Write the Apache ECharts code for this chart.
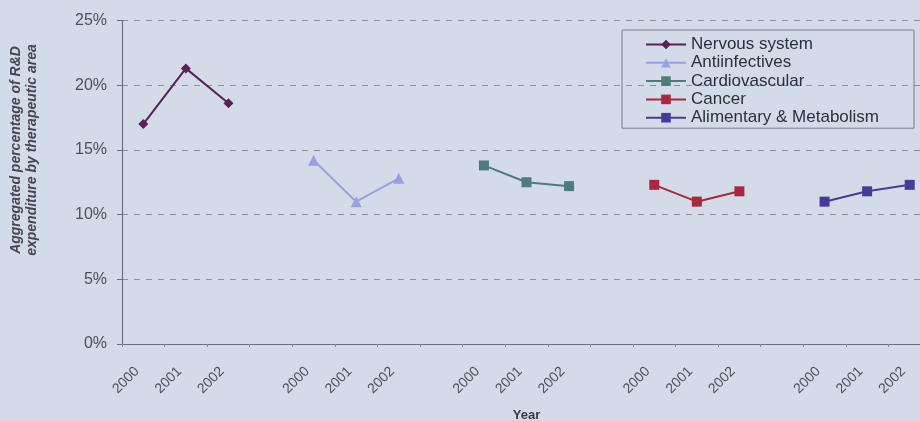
<!DOCTYPE html>
<html>
<head>
<meta charset="utf-8">
<script src="https://cdn.jsdelivr.net/npm/echarts@6/dist/echarts.min.js"></script>
<style>
  html, body { margin: 0; padding: 0; background: #d4dbe8; }
  #chart { width: 920px; height: 421px; }
</style>
</head>
<body>
<div id="chart"></div>
<script>
// Years shown under each therapeutic-area group
const years = ['2000', '2001', '2002'];

// Therapeutic areas (legend order)
const areas = ['Nervous system', 'Antiinfectives', 'Cardiovascular', 'Cancer', 'Alimentary & Metabolism'];

// Share of aggregated R&D expenditure (%) for 2000, 2001, 2002
const nervousSystem = [17.0, 21.3, 18.6];
const antiinfectives = [14.2, 11.0, 12.8];
const cardiovascular = [13.8, 12.5, 12.2];
const cancer = [12.3, 11.0, 11.8];
const alimentary = [11.0, 11.8, 12.3];

// Y axis tick labels (percent)
const yTicks = [0, 5, 10, 15, 20, 25];

const areaValues = [nervousSystem, antiinfectives, cardiovascular, cancer, alimentary];
const areaColors = ['#5b2152', '#9a9fe2', '#4e7c7b', '#a8283d', '#463b98'];
const areaSymbols = ['diamond', 'triangle', 'rect', 'rect', 'rect'];
const areaSymbolSizes = [10, 11, 10, 10, 10];

// Category axis: each group of years followed by an empty spacer slot
const categories = [];
areas.forEach((a, i) => {
  years.forEach(y => categories.push(y));
  if (i < areas.length - 1) categories.push('');
});

const groupSize = years.length + 1;
const series = areas.map((name, i) => {
  const data = categories.map(() => null);
  areaValues[i].forEach((v, j) => { data[i * groupSize + j] = v; });
  return {
    name,
    type: 'line',
    data,
    connectNulls: false,
    symbol: areaSymbols[i],
    symbolSize: areaSymbolSizes[i],
    color: areaColors[i],
    lineStyle: { width: 2, color: areaColors[i] },
    itemStyle: { color: areaColors[i] },
    emphasis: { disabled: true }
  };
});

const textGray = '#4d4f58';
const chart = echarts.init(document.getElementById('chart'), null, { renderer: 'canvas' });
chart.setOption({
  backgroundColor: '#d4dbe8',
  animation: false,
  // the plot runs slightly past the right edge of the canvas
  grid: { left: 122, top: 20.5, width: 809, height: 323.5, outerBoundsMode: 'none', containLabel: false },
  legend: {
    data: areas,
    orient: 'vertical',
    left: 622,
    top: 30,
    padding: [6, 35, 2, 23],
    itemWidth: 40,
    itemHeight: 12,
    itemGap: 1.3,
    borderColor: '#7a7d86',
    borderWidth: 1,
    textStyle: { fontFamily: 'Liberation Sans, Arial, sans-serif', fontSize: 17, color: '#2e2f38', lineHeight: 17 }
  },
  xAxis: {
    type: 'category',
    data: categories,
    boundaryGap: true,
    name: 'Year',
    nameLocation: 'middle',
    nameGap: 65,
    nameTextStyle: { fontFamily: 'Liberation Sans, Arial, sans-serif', fontSize: 13, fontWeight: 'bold', color: '#3a3b44' },
    axisLine: { lineStyle: { color: '#6b6e78', width: 1.2 } },
    axisTick: { show: true, length: 3, interval: 0, lineStyle: { color: '#8a8d96' } },
    axisLabel: {
      interval: 0,
      rotate: 45,
      margin: 19,
      padding: [0, 9, 0, 0],
      fontFamily: 'Liberation Sans, Arial, sans-serif',
      fontSize: 14,
      color: textGray
    },
    splitLine: { show: false }
  },
  yAxis: {
    type: 'value',
    min: yTicks[0],
    max: yTicks[yTicks.length - 1],
    interval: yTicks[1] - yTicks[0],
    axisLine: { show: true, lineStyle: { color: '#6b6e78', width: 1.2 } },
    axisTick: { show: true, length: 5, lineStyle: { color: '#6b6e78' } },
    axisLabel: {
      formatter: v => v + '%',
      margin: 15,
      fontFamily: 'Liberation Sans, Arial, sans-serif',
      fontSize: 16,
      color: textGray
    },
    splitLine: { show: true, lineStyle: { color: '#8d929e', type: [6, 6], width: 1 } }
  },
  graphic: [{
    type: 'text',
    x: 24,
    y: 150,
    rotation: Math.PI / 2,
    style: {
      text: 'Aggregated percentage of R&D\nexpenditure by therapeutic area',
      fontFamily: 'Liberation Sans, Arial, sans-serif',
      fontSize: 14,
      fontWeight: 'bold',
      fontStyle: 'italic',
      lineHeight: 16,
      fill: '#45464f',
      align: 'center',
      verticalAlign: 'middle'
    }
  }],
  series
});
</script>
</body>
</html>
